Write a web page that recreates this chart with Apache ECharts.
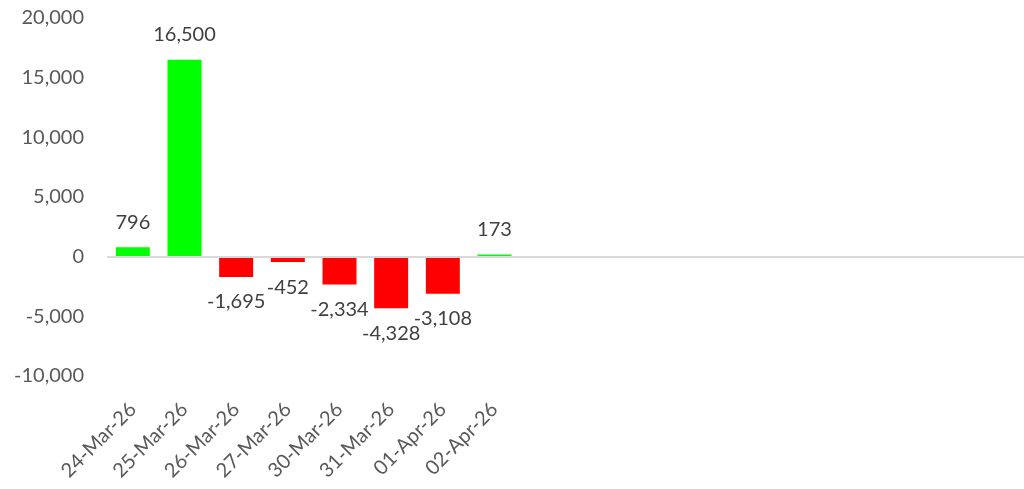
<!DOCTYPE html>
<html><head><meta charset="utf-8">
<script src="https://cdn.jsdelivr.net/npm/echarts@6/dist/echarts.min.js"></script>
<style>html,body{margin:0;padding:0;background:#fff;overflow:hidden}#c{width:1040px;height:489px}</style>
</head><body><div id="c"></div>
<script>
var dates = ['24-Mar-26','25-Mar-26','26-Mar-26','27-Mar-26','30-Mar-26','31-Mar-26','01-Apr-26','02-Apr-26'];
var emptySlots = ['','','','','','','','','',''];
var values = [796, 16500, -1695, -452, -2334, -4328, -3108, 173];
var yTicks = { min: -10000, max: 20000, interval: 5000 };

var categories = dates.concat(emptySlots);
var FONT = 'Lato, "Open Sans", sans-serif';
var chart = echarts.init(document.getElementById('c'));
chart.setOption({
  animation: false,
  grid: { left: 107, top: 18, bottom: 113, width: 930, containLabel: false },
  xAxis: {
    type: 'category', data: categories,
    axisLine: { show: false }, axisTick: { show: false },
    axisLabel: { interval: 0, rotate: 45, margin: 30, color: '#595959', fontSize: 20, fontFamily: FONT }
  },
  yAxis: {
    type: 'value', min: yTicks.min, max: yTicks.max, interval: yTicks.interval,
    axisLine: { show: false }, axisTick: { show: false }, splitLine: { show: false },
    axisLabel: { margin: 23, color: '#595959', fontSize: 20, fontFamily: FONT,
      formatter: function (v) { return v.toLocaleString('en-US'); } }
  },
  series: [{
    type: 'bar', barWidth: 34,
    data: values.map(function (v) {
      return { value: v,
        itemStyle: { color: v >= 0 ? '#00FF00' : '#FF0000' },
        label: { position: v >= 0 ? 'top' : 'bottom' } };
    }),
    label: { show: true, distance: 15, color: '#404040', fontSize: 20, fontFamily: FONT,
      formatter: function (p) { return p.value.toLocaleString('en-US'); } },
    markLine: { silent: true, symbol: 'none', label: { show: false },
      lineStyle: { color: '#D9D9D9', width: 2, type: 'solid' },
      data: [{ yAxis: 0 }] }
  }]
});
</script></body></html>
